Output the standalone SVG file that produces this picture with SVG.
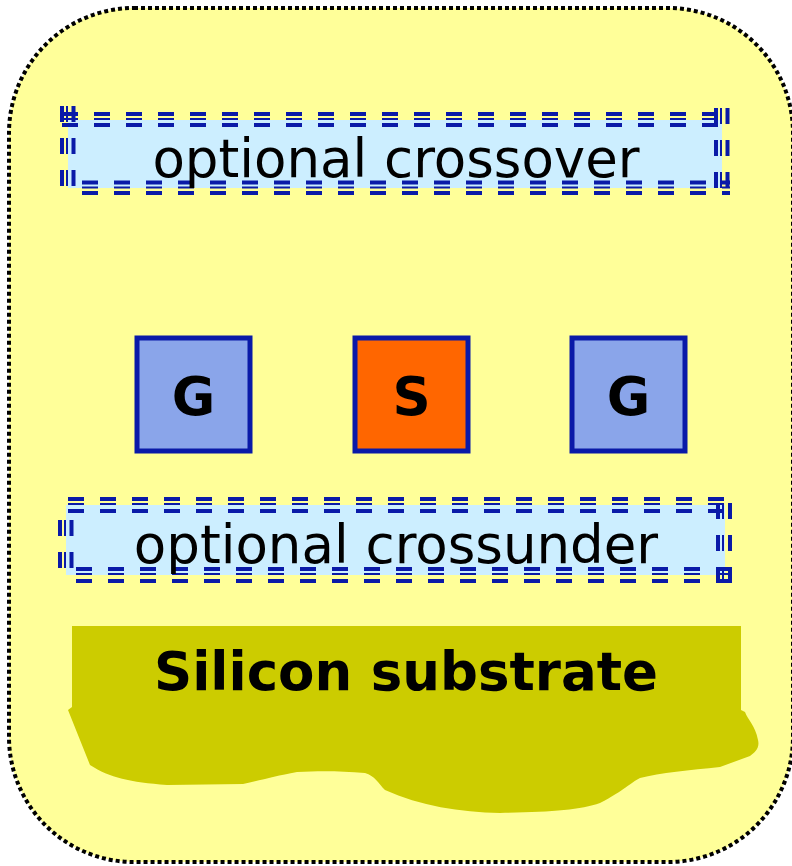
<svg xmlns="http://www.w3.org/2000/svg" width="792" height="866" viewBox="0 0 792 866">
<style>
.lbl{font-family:"DejaVu Sans","Verdana",sans-serif;font-size:53px;fill:#000;text-anchor:middle}
.bold{font-weight:bold}
.db line{stroke:#0a1aa8;stroke-dasharray:16 16}
.tk{stroke-width:4}
.tn{stroke-width:2}
.opt{fill:#cceeff}
.box{stroke:#0a1aa8;stroke-width:5}
</style>
<rect x="9" y="8" width="784" height="854" rx="125" ry="125" fill="#ffff99" stroke="#000" stroke-width="4" stroke-dasharray="4 3"/>
<g id="crossover">
<rect class="opt" x="68" y="120" width="654" height="68"/>
<g class="db">
<line class="tk" x1="62" y1="114" x2="730" y2="114"/>
<line class="tn" x1="62" y1="119" x2="730" y2="119"/>
<line class="tk" x1="62" y1="125" x2="730" y2="125"/>
<line class="tk" x1="82" y1="182.5" x2="730" y2="182.5"/>
<line class="tn" x1="82" y1="187.5" x2="730" y2="187.5"/>
<line class="tk" x1="82" y1="193" x2="730" y2="193"/>
<line class="tk" x1="62" y1="106" x2="62" y2="190"/>
<line class="tn" x1="67" y1="106" x2="67" y2="190"/>
<line class="tk" x1="73.5" y1="106" x2="73.5" y2="190"/>
<line class="tk" x1="716" y1="108" x2="716" y2="190"/>
<line class="tn" x1="721" y1="108" x2="721" y2="190"/>
<line class="tk" x1="727.5" y1="108" x2="727.5" y2="190"/>
</g>
<text class="lbl" x="396" y="177">optional crossover</text>
</g>
<g id="crossunder">
<rect class="opt" x="66" y="505" width="659" height="70"/>
<g class="db">
<line class="tk" x1="68" y1="499" x2="733" y2="499"/>
<line class="tn" x1="68" y1="504" x2="733" y2="504"/>
<line class="tk" x1="68" y1="511" x2="733" y2="511"/>
<line class="tk" x1="76" y1="569" x2="733" y2="569"/>
<line class="tn" x1="76" y1="574" x2="733" y2="574"/>
<line class="tk" x1="76" y1="581" x2="733" y2="581"/>
<line class="tk" x1="60" y1="520" x2="60" y2="570"/>
<line class="tn" x1="65" y1="520" x2="65" y2="570"/>
<line class="tk" x1="71.5" y1="520" x2="71.5" y2="570"/>
<line class="tk" x1="718" y1="503" x2="718" y2="583"/>
<line class="tn" x1="723" y1="503" x2="723" y2="583"/>
<line class="tk" x1="730" y1="503" x2="730" y2="583"/>
</g>
<text class="lbl" x="396" y="563">optional crossunder</text>
</g>
<g id="G1">
<rect class="box" x="137" y="338" width="113" height="113" fill="#8aa5ea"/>
<text class="lbl bold" x="193.5" y="415">G</text>
</g>
<g id="S">
<rect class="box" x="355" y="338" width="113" height="113" fill="#ff6600"/>
<text class="lbl bold" x="411.5" y="415">S</text>
</g>
<g id="G2">
<rect class="box" x="572" y="338" width="113" height="113" fill="#8aa5ea"/>
<text class="lbl bold" x="628.5" y="415">G</text>
</g>
<g id="substrate">
<path d="M72,626 H741 V710 L745,712 C748,720 755,725 758,740 C760,748 755,752 750,756 L720,767 C690,770 660,773 640,778 C630,783 625,790 600,803 C580,810 550,812 500,813 C460,812 420,806 385,790 C378,783 375,776 365,773 C340,771 320,771 297,772 C275,776 262,780 243,784 L167,785 C130,782 110,778 90,765 L68,710 L72,707 Z" fill="#cccc00"/>
<text class="lbl bold" x="406" y="690">Silicon substrate</text>
</g>
<g id="connectors"/>
</svg>
